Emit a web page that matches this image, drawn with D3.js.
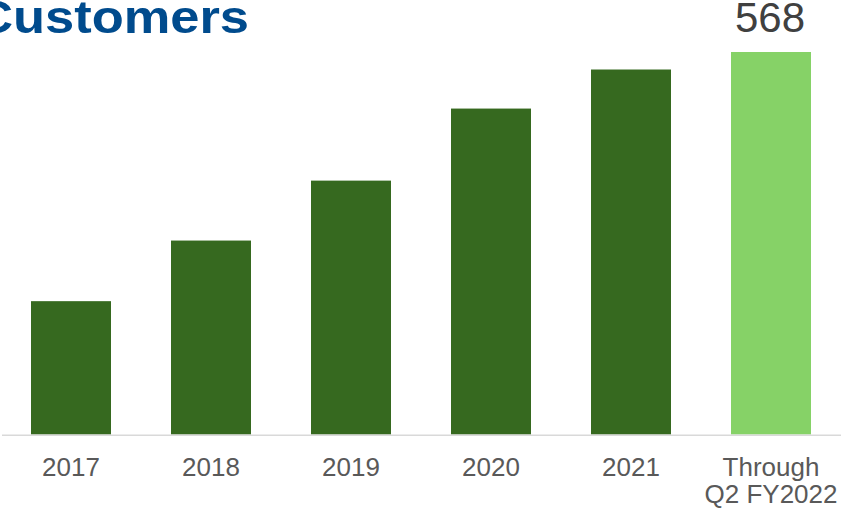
<!DOCTYPE html>
<html>
<head>
<meta charset="utf-8">
<script src="https://cdn.jsdelivr.net/npm/d3@7"></script>
<style>
  body { margin: 0; background: #fff; }
  svg { display: block; font-family: "Liberation Sans", Arial, sans-serif; }
</style>
</head>
<body>
<svg id="chart" width="841" height="509"></svg>
<script>
// customers by year
const years = ["2017", "2018", "2019", "2020", "2021", "Through\nQ2 FY2022"];
const customers = [198, 288, 377, 484, 542, 568];
const labelled = [false, false, false, false, false, true];

const width = 841, height = 509;
const base = 434.5;

const svg = d3.select("#chart");

const x = d3.scaleBand()
  .domain(years)
  .range([1, 841])
  .paddingInner(3 / 7)
  .paddingOuter(3 / 14);

const y = d3.scaleLinear()
  .domain([0, 568])
  .range([base, 52]);

// title, cut off at the left edge as in the slide (text is a little stretched there)
svg.append("text")
  .attr("transform", "translate(249,33) scale(1.14,1)")
  .attr("text-anchor", "end")
  .attr("font-size", 46)
  .attr("font-weight", "bold")
  .attr("fill", "#004b8d")
  .text("Customers");

svg.append("g")
  .selectAll("rect")
  .data(years)
  .enter()
  .append("rect")
  .attr("x", d => x(d))
  .attr("width", x.bandwidth())
  .attr("y", (d, i) => y(customers[i]))
  .attr("height", (d, i) => base - y(customers[i]))
  .attr("fill", (d, i) => i == years.length - 1 ? "#86d267" : "#36691f");

// axis line
svg.append("line")
  .attr("x1", 2)
  .attr("x2", width)
  .attr("y1", base + 0.8)
  .attr("y2", base + 0.8)
  .attr("stroke", "#d9d9d9")
  .attr("stroke-width", 1.6);

// category labels
const labels = svg.append("g")
  .selectAll("text")
  .data(years)
  .enter()
  .append("text")
  .attr("x", d => x(d) + x.bandwidth() / 2)
  .attr("y", 476)
  .attr("text-anchor", "middle")
  .attr("font-size", 26)
  .attr("fill", "#595959");

labels.selectAll("tspan")
  .data(d => d.split("\n"))
  .enter()
  .append("tspan")
  .attr("x", function() { return d3.select(this.parentNode).attr("x"); })
  .attr("dy", (d, i) => i == 0 ? 0 : 27)
  .text(d => d);

// value label on the last bar
svg.append("g")
  .selectAll("text")
  .data(years.filter((d, i) => labelled[i]))
  .enter()
  .append("text")
  .attr("x", d => x(d) + x.bandwidth() / 2 - 1)
  .attr("y", 32)
  .attr("text-anchor", "middle")
  .attr("font-size", 42)
  .attr("fill", "#404040")
  .text(d => customers[years.indexOf(d)]);
</script>
</body>
</html>
